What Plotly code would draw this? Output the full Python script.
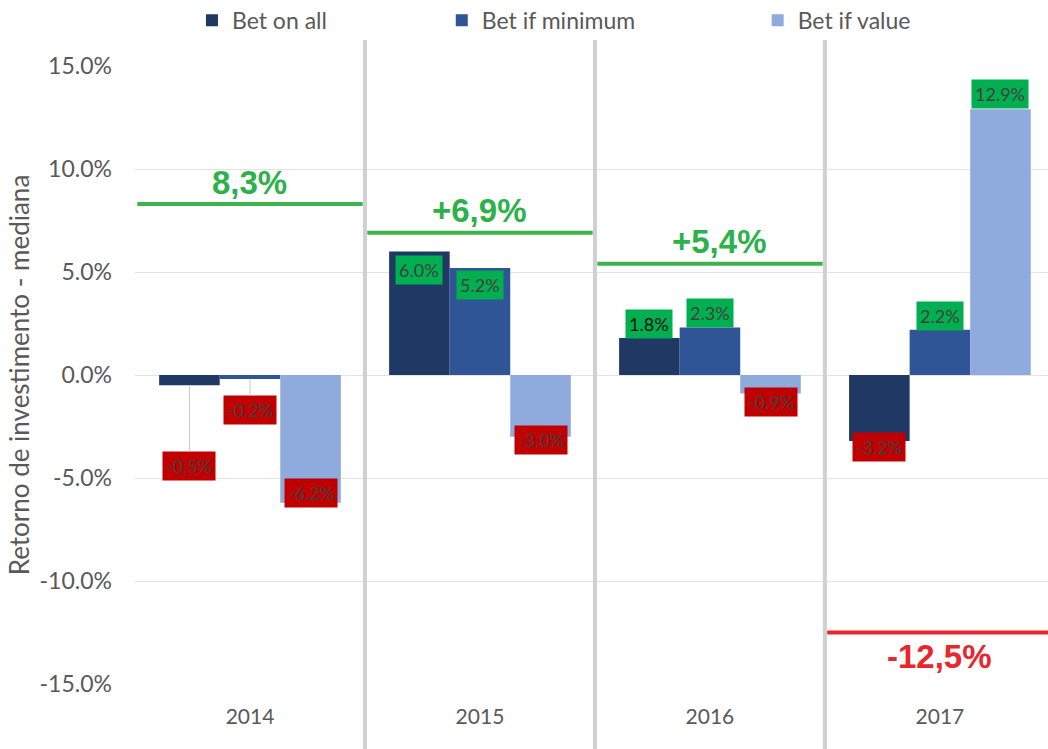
import plotly.graph_objects as go

years = ["2014", "2015", "2016", "2017"]
series_names = ["Bet on all", "Bet if minimum", "Bet if value"]
bet_on_all = [-0.5, 6.0, 1.8, -3.2]
bet_if_minimum = [-0.2, 5.2, 2.3, 2.2]
bet_if_value = [-6.2, -3.0, -0.9, 12.9]
summary_values = [8.3, 6.9, 5.4, -12.5]
summary_labels = ["8,3%", "+6,9%", "+5,4%", "-12,5%"]
y_ticks = [-15, -10, -5, 0, 5, 10, 15]
y_tick_labels = ["-15.0%", "-10.0%", "-5.0%", "0.0%", "5.0%", "10.0%", "15.0%"]

series_values = [bet_on_all, bet_if_minimum, bet_if_value]
colors = ["#203864", "#2f5597", "#8faadc"]

# label placement (pixel offsets from bar end), leader lines
label_shift = [
    [-81, -19, 14, -6],
    [-31, -17, 15, 14],
    [10, -3, -8, 15],
]
leader = [
    [True, False, False, False],
    [True, False, False, False],
    [False, False, False, False],
]
legend_x = [0.0624, 0.336, 0.682]

FONT = "Lato, 'Open Sans', sans-serif"
W, H = 1048, 749
ml, mr, mt, mb = 135, 0, 66, 65
plot_w = W - ml - mr
xr = [-0.5, 3.47]
px_per_cat = plot_w / (xr[1] - xr[0])
bargap = 0.21
bar_px = px_per_cat * (1 - bargap) / 3

fig = go.Figure()
for i, (name, vals, col) in enumerate(zip(series_names, series_values, colors)):
    fig.add_trace(go.Bar(
        x=years, y=vals, name=name, marker=dict(color=col, line=dict(width=0)),
        legend="legend" if i == 0 else f"legend{i+1}",
    ))

annotations = []
for i, vals in enumerate(series_values):
    for j, v in enumerate(vals):
        txt = f"{v:.1f}%"
        bg = "#00b050" if v >= 0 else "#c00000"
        fcol = "#111111" if (i == 0 and j == 2) else "#404040"
        common = dict(
            x=j, y=v, xref="x", yref="y", text=txt,
            font=dict(family=FONT, size=18, color=fcol),
            bgcolor=bg, borderpad=3, xshift=(i - 1) * bar_px,
        )
        if leader[i][j]:
            annotations.append(dict(**common, showarrow=True, arrowhead=0,
                                    arrowwidth=1, arrowcolor="#c8c8c8",
                                    ax=0, ay=-label_shift[i][j]))
        else:
            annotations.append(dict(**common, showarrow=False,
                                    yshift=label_shift[i][j]))

shapes = []
for j, (sv, sl) in enumerate(zip(summary_values, summary_labels)):
    col = "#3cb44b" if sv >= 0 else "#e8262d"
    x0 = j - 0.49
    x1 = j + 0.49 if j < 3 else xr[1]
    shapes.append(dict(type="line", xref="x", yref="y", x0=x0, x1=x1, y0=sv, y1=sv,
                       line=dict(color=col, width=4), layer="above"))
    annotations.append(dict(
        x=j, y=sv, xref="x", yref="y", text=f"<b>{sl}</b>", showarrow=False,
        yshift=22 if sv >= 0 else -24, xshift=10 if j == 2 else 0,
        font=dict(family="'Liberation Sans', Arial, sans-serif", size=33,
                  color="#2db14a" if sv >= 0 else "#e8262d"),
    ))

for k in range(3):
    shapes.append(dict(type="line", xref="x", yref="paper", x0=k + 0.5, x1=k + 0.5,
                       y0=-0.11, y1=1.042, line=dict(color="#d0d0d0", width=4),
                       layer="above"))

legend_common = dict(orientation="h", yanchor="middle", y=1.074, xanchor="left",
                     font=dict(family=FONT, size=23, color="#595959"),
                     bgcolor="rgba(0,0,0,0)", itemwidth=30)

fig.update_layout(
    width=W, height=H,
    margin=dict(l=ml, r=mr, t=mt, b=mb, autoexpand=False),
    paper_bgcolor="white", plot_bgcolor="white",
    barmode="group", bargap=bargap, bargroupgap=0,
    showlegend=True,
    legend=dict(**legend_common, x=legend_x[0]),
    legend2=dict(**legend_common, x=legend_x[1]),
    legend3=dict(**legend_common, x=legend_x[2]),
    xaxis=dict(type="category", range=xr, showgrid=False, showline=False, zeroline=False,
               automargin=False,
               tickfont=dict(family=FONT, size=21, color="#595959"),
               ticklabelstandoff=18),
    yaxis=dict(range=[-15, 15], tickvals=y_ticks, ticktext=y_tick_labels,
               showgrid=True, gridcolor="#e3e3e3", gridwidth=1, zeroline=True,
               zerolinecolor="#e3e3e3", zerolinewidth=1, showline=False,
               automargin=False,
               tickfont=dict(family=FONT, size=23, color="#595959"),
               ticklabelstandoff=22,
               title=dict(text="Retorno de investimento - mediana", standoff=2,
                          font=dict(family=FONT, size=26, color="#595959"))),
    shapes=shapes, annotations=annotations,
)

fig.write_html("out.html", config={"displayModeBar": False},
               post_script="document.body.style.margin='0';")
